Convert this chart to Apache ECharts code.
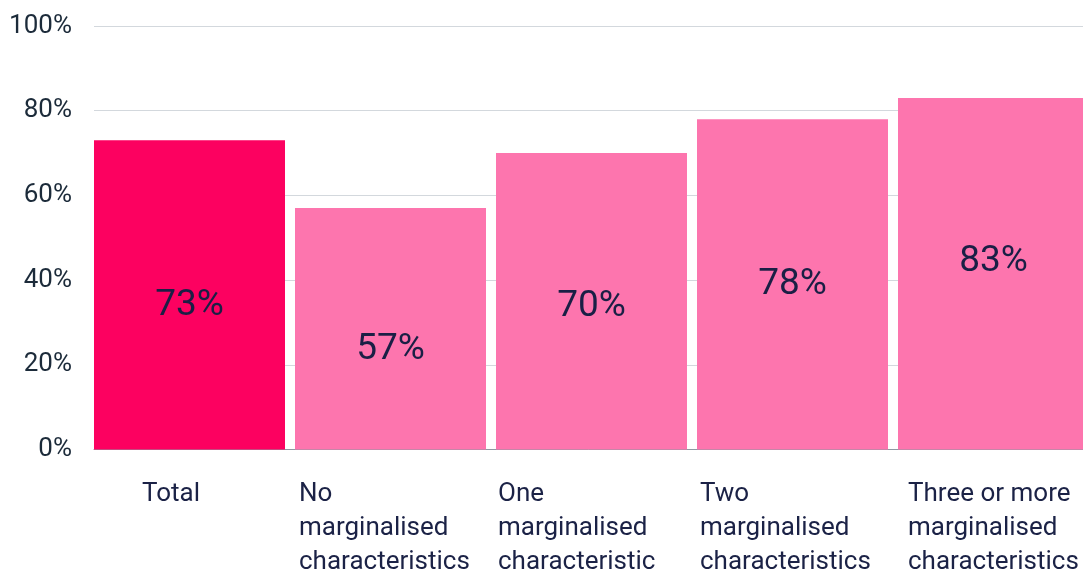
<!DOCTYPE html>
<html>
<head>
<meta charset="utf-8">
<script src="https://cdn.jsdelivr.net/npm/echarts@6/dist/echarts.min.js"></script>
<style>
  html, body { margin: 0; padding: 0; background: #fff; }
  #main { width: 1083px; height: 574px; }
</style>
</head>
<body>
<div id="main"></div>
<script>
// categories, each line of the wrapped label
var categories = [
  ['Total'],
  ['No', 'marginalised', 'characteristics'],
  ['One', 'marginalised', 'characteristic'],
  ['Two', 'marginalised', 'characteristics'],
  ['Three or more', 'marginalised', 'characteristics']
];
var values = [73, 57, 70, 78, 83];
var yTicks = [0, 20, 40, 60, 80, 100];

// styling only
var barColors = ['#fc0160', '#fd75ae', '#fd75ae', '#fd75ae', '#fd75ae'];
var labelOffsets = [11, 21, 5, 0, -12];
var labelBlockWidths = [105, 193, 197, 195, 181];

var rich = { l: { align: 'left', lineHeight: 34, fontSize: 26, color: '#1b2246', fontFamily: 'Roboto' } };
labelBlockWidths.forEach(function (w, i) {
  rich['f' + i] = { width: w, align: 'left', lineHeight: 34, fontSize: 26, color: '#1b2246', fontFamily: 'Roboto' };
});

var chart = echarts.init(document.getElementById('main'));
var option = {
  animation: false,
  textStyle: { fontFamily: 'Roboto' },
  // plot runs past the right edge of the page, last bar is cut off
  grid: { left: 94, width: 1005, top: 26, bottom: 124.5, containLabel: false, outerBoundsMode: 'none' },
  xAxis: {
    type: 'category',
    data: categories.map(function (c) { return c.join(' '); }),
    axisTick: { show: false },
    axisLine: { lineStyle: { color: '#8f99a3', width: 1 } },
    axisLabel: {
      interval: 0,
      margin: 28,
      formatter: function (v, i) {
        var lines = categories[i];
        var out = ['{f' + i + '|' + lines[0] + '}'];
        for (var k = 1; k < lines.length; k++) out.push('{l|' + lines[k] + '}');
        return out.join('\n');
      },
      rich: rich
    }
  },
  yAxis: {
    type: 'value',
    min: yTicks[0],
    max: yTicks[yTicks.length - 1],
    interval: 20,
    axisLine: { show: false },
    axisTick: { show: false },
    splitLine: { lineStyle: { color: '#d3d8dd', width: 1 } },
    axisLabel: {
      formatter: '{value}%',
      color: '#1c2b3a',
      fontSize: 26,
      margin: 22,
      padding: [4, 0, 0, 0]
    }
  },
  series: [
    {
      type: 'bar',
      barWidth: 191,
      barGap: 0,
      barCategoryGap: 0,
      data: values.map(function (v, i) {
        return {
          value: v,
          itemStyle: { color: barColors[i] },
          label: { offset: [0, labelOffsets[i]] }
        };
      }),
      label: {
        show: true,
        position: 'inside',
        formatter: '{c}%',
        fontSize: 37,
        color: '#1a1f45',
        fontFamily: 'Roboto'
      }
    },
    {
      type: 'bar',
      barWidth: 10,
      barGap: 0,
      data: values.map(function () { return null; }),
      silent: true
    }
  ]
};
chart.setOption(option);
</script>
</body>
</html>
